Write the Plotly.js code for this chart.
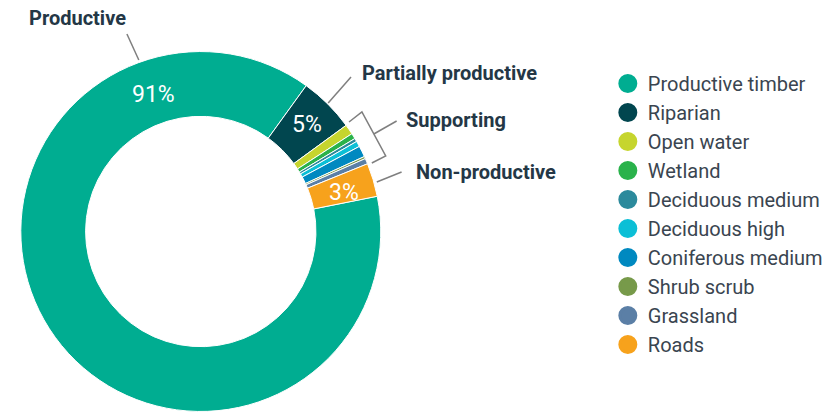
<!DOCTYPE html>
<html>
<head>
<meta charset="utf-8">
<script src="https://cdn.plot.ly/plotly-3.0.1.min.js"></script>
<style>html,body{margin:0;padding:0;background:#fff;}#chart{width:828px;height:415px;}</style>
</head>
<body>
<div id="chart"></div>
<script>
// ---- data ----
const categories = ["Productive timber","Riparian","Open water","Wetland","Deciduous medium","Deciduous high","Coniferous medium","Shrub scrub","Grassland","Roads"];
const shares = [88.1, 5.0, 0.9, 0.5, 0.3, 0.5, 1.0, 0.2, 0.5, 3.0];
const pctLabels = ["91%","5%","3%"];
const colors = ["#00ad91","#01464f","#c6d52e","#2ab24b","#2c8a9c","#0cbfd6","#0089c0","#779a4a","#5b7fa6","#f7a21c"];
const groupLabels = ["Productive","Partially productive","Supporting","Non-productive"];

const FONT = "Roboto, 'Noto Sans', sans-serif";
const W = 828, H = 415;
const px = x => x / W, py = y => 1 - y / H;

const pie = {
  type: "pie",
  labels: categories,
  values: shares,
  textinfo: "none",
  marker: {colors: colors, line: {color: "#ffffff", width: 1}},
  hole: 0.64,
  sort: false,
  direction: "clockwise",
  rotation: 78.7,
  showlegend: false,
  hoverinfo: "label+percent",
  domain: {x: [px(21), px(384)], y: [py(413), py(50)]}
};

const legendTraces = categories.map((c, i) => ({
  type: "scatter",
  mode: "markers",
  x: [null], y: [null],
  name: c,
  marker: {color: colors[i], size: 18, symbol: "circle", line: {color: colors[i], width: 3}},
  hoverinfo: "skip",
  showlegend: true
}));

const lineStyle = {color: "#7f7f7f", width: 1.5};
function path(pts) {
  return "M " + pts.map(p => px(p[0]) + "," + py(p[1])).join(" L ");
}
const shapes = [
  {type: "path", xref: "paper", yref: "paper", path: path([[128,34],[140,60]]), line: lineStyle},
  {type: "path", xref: "paper", yref: "paper", path: path([[331,103],[354,77]]), line: lineStyle},
  {type: "path", xref: "paper", yref: "paper", path: path([[352,122],[365,112],[389,156],[375,163]]), line: lineStyle},
  {type: "path", xref: "paper", yref: "paper", path: path([[377,134],[400,121]]), line: lineStyle},
  {type: "path", xref: "paper", yref: "paper", path: path([[380,182],[405,172]]), line: lineStyle}
];

const labelPos = [[27,18],[363,73],[407,120],[418,172]];
const annotations = groupLabels.map((t, i) => ({
  xref: "paper", yref: "paper",
  x: px(labelPos[i][0]), y: py(labelPos[i][1]),
  xanchor: "left", yanchor: "middle",
  text: "<b>" + t + "</b>", showarrow: false,
  font: {family: FONT, size: 20, color: "#243746"}
}));
const pctPos = [[155,95],[310,125],[347,192]];
pctLabels.forEach((t, i) => annotations.push({
  xref: "paper", yref: "paper", x: px(pctPos[i][0]), y: py(pctPos[i][1]),
  xanchor: "center", yanchor: "middle",
  text: t, showarrow: false,
  font: {family: FONT, size: 23, color: "#ffffff"}
}));

const layout = {
  width: W, height: H,
  margin: {l: 0, r: 0, t: 0, b: 0},
  paper_bgcolor: "#ffffff", plot_bgcolor: "#ffffff",
  xaxis: {visible: false, range: [1, 2], domain: [0.99, 1]},
  yaxis: {visible: false, range: [1, 2], domain: [0.99, 1]},
  showlegend: true,
  legend: {
    x: px(613), y: py(64), xanchor: "left", yanchor: "top",
    font: {family: FONT, size: 20, color: "#3a4550"},
    bgcolor: "rgba(0,0,0,0)", tracegroupgap: 0
  },
  shapes: shapes,
  annotations: annotations
};

Plotly.newPlot("chart", [pie].concat(legendTraces), layout, {displayModeBar: false, staticPlot: true});
</script>
</body>
</html>
